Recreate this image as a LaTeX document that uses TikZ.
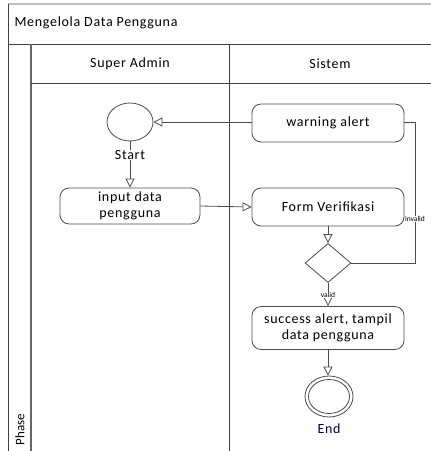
\documentclass[tikz,border=0pt]{standalone}
\usepackage{fontspec}
\setmainfont{Carlito}
\newfontfamily\wide[LetterSpace=5]{Carlito}
\usetikzlibrary{arrows.meta,shapes.geometric}
\begin{document}
\begin{tikzpicture}[x=1pt,y=-1pt,
  txt/.style={font=\wide\fontsize{14}{15.5}\selectfont},
  act/.style={txt,draw=black!70,rounded corners=9pt,line width=0.8pt,minimum width=152pt,minimum height=38pt,align=center,inner sep=1pt},
  flow/.style={draw=black!70,line width=0.8pt,-{Triangle[open,length=9pt,width=9pt]}},
  plain/.style={draw=black!70,line width=0.8pt},
  frame/.style={draw=black!75,line width=1pt},
  lbl/.style={font=\fontsize{7.5}{8}\selectfont}]
\useasboundingbox (0,0) rectangle (431,451);
% frame
\draw[draw=black!25,line width=1.2pt] (8,4) -- (431,4);
\draw[frame] (8,4) -- (8,451);
\draw[frame] (8,44) -- (431,44);
\draw[frame,line width=1.4pt,draw=black!60] (31,44) -- (31,451);
\draw[frame] (31,83) -- (431,83);
\draw[frame] (229,44) -- (229,451);
\node[txt,anchor=west] (title) at (11,23) {Mengelola Data Pengguna};
\node[txt] (lane1) at (130,64) {Super Admin};
\node[txt] (lane2) at (330,64) {Sistem};
\node[rotate=90,anchor=west,font=\fontsize{13}{14}\selectfont] (phase) at (20,449) {Phase};
% nodes
\node[draw=black!70,line width=0.8pt,ellipse,minimum width=46pt,minimum height=38pt] (start) at (130,122) {};
\node[txt,fill=white,inner sep=0.5pt] (startlbl) at (130,155) {Start};
\node[act,minimum width=140pt,minimum height=36pt] (input) at (130,206) {input data\\pengguna};
\node[act] (warn) at (328,123) {warning alert};
\node[act] (form) at (328,207) {Form Verifikasi};
\node[draw=black!70,line width=0.8pt,diamond,minimum width=46pt,minimum height=39pt,inner sep=0pt] (dec) at (328,263) {};
\node[act,minimum height=43pt] (succ) at (328,328) {success alert, tampil\\data pengguna};
\node[draw=black!70,line width=0.8pt,ellipse,minimum width=48pt,minimum height=41pt,inner sep=0pt] (endn) at (329,396.5) {};
\node[draw=black!70,line width=0.8pt,ellipse,minimum width=41pt,minimum height=34pt,inner sep=0pt] (endin) at (329,396.5) {};
\node[txt,text=black!75!blue] (endlbl) at (329,429) {End};
% edges
\draw[plain] (start.south) -- (startlbl.north);
\draw[flow] (startlbl.south) -- (input.north);
\draw[flow] (input.east) -- (form.west);
\draw[flow] (form.south) -- (dec.north);
\coordinate (c1) at (415,263);
\coordinate (c2) at (415,122);
\draw[plain] (dec.east) -- (c1) -- (c2) -- (warn.east |- c2);
\node[lbl,fill=white,inner sep=0.5pt] (inv) at (415,219) {invalid};
\draw[flow] (warn.west |- start.east) -- (start.east);
\coordinate (v) at (328,295);
\draw[flow] (dec.south) -- (succ.north);
\node[lbl,fill=white,inner sep=0.5pt] (val) at (v) {valid};
\draw[flow] (succ.south) -- (endn.north -| succ.south);
\end{tikzpicture}
\end{document}
